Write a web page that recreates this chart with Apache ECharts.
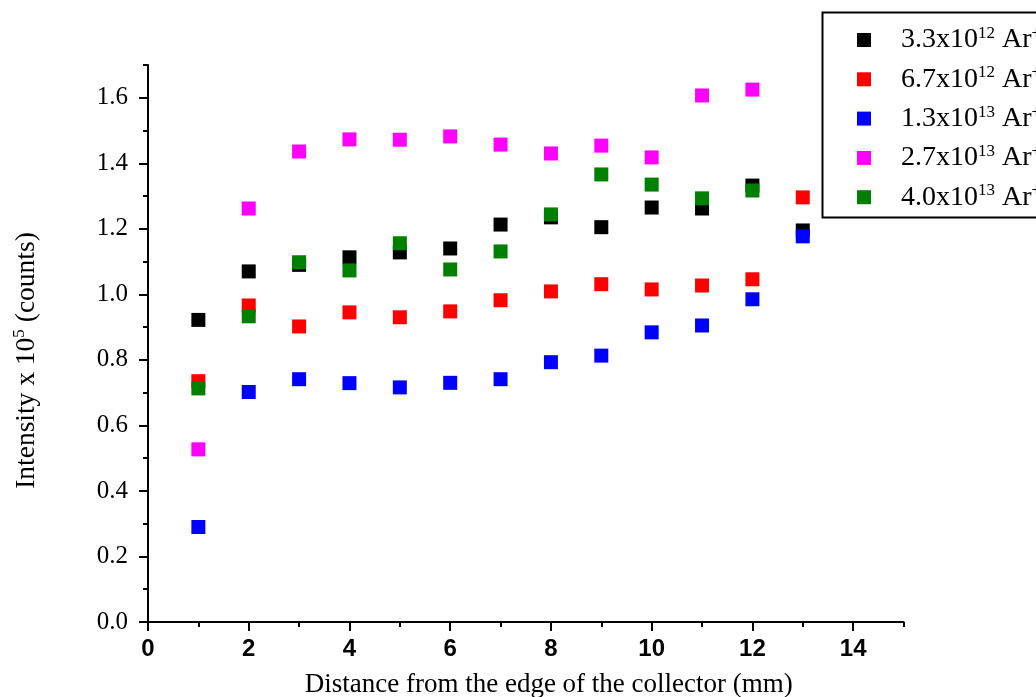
<!DOCTYPE html>
<html><head><meta charset="utf-8">
<script src="https://cdn.jsdelivr.net/npm/echarts@6/dist/echarts.min.js"></script>
<style>html,body{margin:0;padding:0;background:#fff}#c{width:1036px;height:697px}</style>
</head><body><div id="c"></div>
<script>
// Data
const xBlack = [1,2,3,4,5,6,7,8,9,10,11,12,13];
const yBlack = [0.922,1.070,1.090,1.113,1.128,1.140,1.213,1.235,1.205,1.265,1.262,1.332,1.195];
const xRed = [1,2,3,4,5,6,7,8,9,10,11,12,13];
const yRed = [0.735,0.966,0.902,0.945,0.930,0.948,0.982,1.009,1.031,1.015,1.027,1.046,1.296];
const xBlue = [1,2,3,4,5,6,7,8,9,10,11,12,13];
const yBlue = [0.290,0.702,0.741,0.729,0.716,0.730,0.741,0.793,0.813,0.884,0.905,0.985,1.177];
const xMagenta = [1,2,3,4,5,6,7,8,9,10,11,12];
const yMagenta = [0.527,1.262,1.436,1.473,1.472,1.482,1.457,1.430,1.454,1.418,1.607,1.625];
const xGreen = [1,2,3,4,5,6,7,8,9,10,11,12];
const yGreen = [0.713,0.933,1.098,1.073,1.156,1.076,1.131,1.244,1.366,1.335,1.293,1.317];

const seriesNames = ['3.3x10^12','6.7x10^12','1.3x10^13','2.7x10^13','4.0x10^13'];
const seriesColors = ['#000000','#ff0000','#0000ff','#ff00ff','#008000'];
const xMajorTicks = [0,2,4,6,8,10,12,14];
const xMinorTicks = [1,3,5,7,9,11,13,15];
const yMajorTicks = [0,0.2,0.4,0.6,0.8,1.0,1.2,1.4,1.6];
const yMinorTicks = [0.1,0.3,0.5,0.7,0.9,1.1,1.3,1.5,1.7];

const serif = '"Liberation Serif","Times New Roman",serif';
const sansBold = '"Liberation Sans Narrow","Liberation Sans",Arial,sans-serif';

function zip(xs, ys){ return xs.map((x,i)=>[x, ys[i]]); }
const xsAll = [xBlack,xRed,xBlue,xMagenta,xGreen];
const ysAll = [yBlack,yRed,yBlue,yMagenta,yGreen];

const chart = echarts.init(document.getElementById('c'), null, {renderer:'canvas'});
const axisLine = {show:true, onZero:false, lineStyle:{color:'#000', width:2}};
const option = {
  animation:false,
  backgroundColor:'#fff',
  grid:{left:148, right:132.5, top:65, bottom:75, containLabel:false, outerBoundsMode:'none'},
  xAxis:[{
    type:'value', min:0, max:15, interval:1,
    axisLine: axisLine,
    axisTick:{show:true, inside:false, length:9, lineStyle:{color:'#000', width:2}, customValues:xMajorTicks},
    axisLabel:{show:true, margin:15, fontFamily:sansBold, fontWeight:'bold', fontSize:24, color:'#000', customValues:xMajorTicks},
    splitLine:{show:false},
    name:'Distance from the edge of the collector (mm)', nameLocation:'middle', nameGap:49,
    nameTextStyle:{fontFamily:serif, fontSize:27, color:'#000', padding:[0,0,0,46]}
  },{
    type:'value', min:0, max:15, interval:1, position:'bottom',
    axisLine:{show:false},
    axisTick:{show:true, inside:false, length:5, lineStyle:{color:'#000', width:2}, customValues:xMinorTicks},
    axisLabel:{show:false}, splitLine:{show:false}
  }],
  yAxis:[{
    type:'value', min:0, max:1.7, interval:0.1,
    axisLine: axisLine,
    axisTick:{show:true, inside:false, length:9, lineStyle:{color:'#000', width:2}, customValues:yMajorTicks},
    axisLabel:{show:true, margin:20, fontFamily:serif, fontSize:25, color:'#000', customValues:yMajorTicks,
      formatter:v=>Number(v).toFixed(1)},
    splitLine:{show:false},
    name:'{n|Intensity x 10}{s|5}{n| (counts)}', nameLocation:'middle', nameGap:106, nameRotate:90,
    nameTextStyle:{fontFamily:serif, fontSize:27.5, color:'#000', padding:[0,34,0,0],
      rich:{n:{fontFamily:serif, fontSize:27.5, color:'#000'}, s:{fontFamily:serif, fontSize:17, color:'#000', verticalAlign:'top', padding:[0,0,14,0]}}}
  },{
    type:'value', min:0, max:1.7, interval:0.1, position:'left',
    axisLine:{show:false},
    axisTick:{show:true, inside:false, length:5, lineStyle:{color:'#000', width:2}, customValues:yMinorTicks},
    axisLabel:{show:false}, splitLine:{show:false}
  }],
  legend:{
    left:857, top:25, orient:'vertical', padding:0, itemWidth:14, itemHeight:14, itemGap:10.3,
    icon:'rect',
    data: seriesNames.map(n=>({name:n, icon:'rect'})),
    formatter: function(name){
      const p = name.split('^');
      return '{n|'+p[0]+'}{s|'+p[1]+'}{n| Ar}{s|+}';
    },
    textStyle:{
      fontFamily:serif, fontSize:28, color:'#000', padding:[0,0,0,25],
      rich:{
        n:{fontFamily:serif, fontSize:28, lineHeight:30, color:'#000'},
        s:{fontFamily:serif, fontSize:17, lineHeight:17, color:'#000', verticalAlign:'top'}
      }
    }
  },
  graphic:[{
    type:'rect', left:820, top:10, z:100,
    shape:{width:260, height:205},
    style:{fill:'none', stroke:'#000', lineWidth:2}
  }],
  series: seriesNames.map((n,i)=>({
    name:n, type:'scatter', symbol:'rect', symbolSize:14,
    xAxisIndex:0, yAxisIndex:0,
    itemStyle:{color:seriesColors[i], opacity:1},
    data: zip(xsAll[i], ysAll[i])
  }))
};
chart.setOption(option);
</script></body></html>
